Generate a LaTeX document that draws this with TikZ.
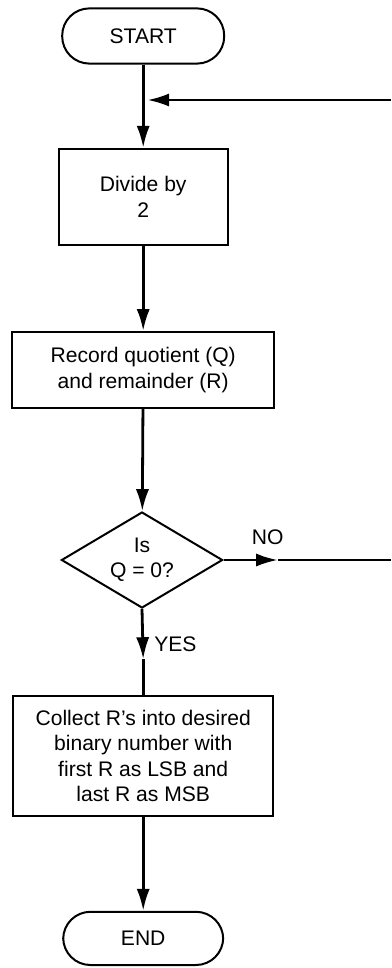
\documentclass[tikz,border=0pt]{standalone}
\usepackage{fontspec}
\setmainfont{Liberation Sans}
\usetikzlibrary{shapes.geometric}
\usetikzlibrary{arrows.meta}

\begin{document}
\begin{tikzpicture}[
  terminal/.style={rectangle, draw, line width=.05cm, rounded corners=.68cm, minimum width=4.05cm, minimum height=1.38cm},
  procbox/.style={rectangle, draw, line width=.05cm, align=center, inner sep=0},
  flow/.style={-{Latex[length=.55cm,width=.33cm]}, line width=.07cm},
  font=\fontsize{15}{18}\selectfont]

\useasboundingbox (0,0) rectangle (9.775cm,-24.2cm);

\node (start) at(3.58cm,-.9cm) [terminal] {START};

\node (divide) at(3.58cm,-4.92cm) [procbox, minimum width=4.22cm, minimum height=2.4cm] {Divide by\\2};

\node (record) at(3.58cm,-9.25cm) [procbox, minimum width=6.55cm, minimum height=1.9cm] {Record quotient (Q)\\and remainder (R)};

\node (test) at(3.55cm,-14cm) [diamond, aspect=1.7, draw, line width=.05cm, align=center, inner sep=0, minimum width=4.03cm, minimum height=2.4cm] {Is\\Q = 0?};

\node (collect) at(3.58cm,-18.9cm) [procbox, minimum width=6.5cm, minimum height=3cm] {Collect R’s into desired\\binary number with\\first R as LSB and\\last R as MSB};

\node (stop) at(3.58cm,-23.46cm) [terminal, minimum width=4cm, minimum height=1.33cm] {END};

%\node [fill=white] at (8cm,-8cm) {loop};
\coordinate (loopin) at (9.775cm,-2.5cm);
\coordinate (noout) at (9.775cm,-14cm);
\coordinate (noarr) at (6.95cm,-14cm);
\coordinate (yesarr) at (3.58cm,-16.48cm);

\draw [flow] (start) -- (divide);
\draw [flow, shorten >=.1cm] (loopin) -- (start |- loopin);
\draw [flow] (divide) -- (record);
\draw [flow] (record) -- (test);

\draw [flow] (test.east) -- (noarr);
\draw [line width=.07cm] (noarr) -- (noout);
\node (nolabel) at (6.69cm,-13.44cm) {NO};

\draw [flow] (test.south) -- (yesarr);
\draw [line width=.07cm] (yesarr) -- (collect.north);
\node (yeslabel) at (3.85cm,-16.11cm) [anchor=west, inner sep=0] {YES};

\draw [flow] (collect) -- (stop);

\end{tikzpicture}
\end{document}
